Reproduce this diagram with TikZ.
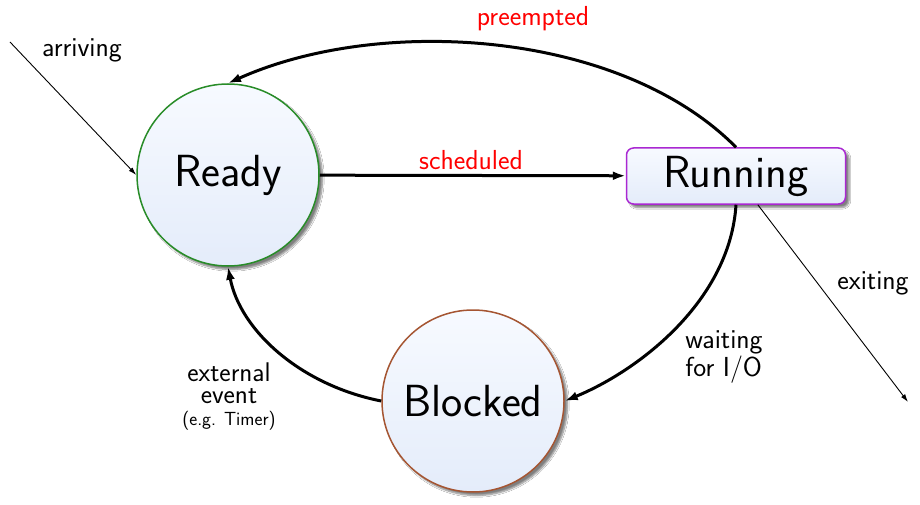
\documentclass[tikz,border=0pt]{standalone}
\usepackage{fontspec}
\usetikzlibrary{arrows.meta,shadows.blur}
\definecolor{rgreen}{RGB}{40,140,40}
\definecolor{bbrown}{RGB}{165,85,50}
\definecolor{rviolet}{RGB}{170,40,210}
\definecolor{ftop}{RGB}{247,250,255}
\definecolor{fbot}{RGB}{228,236,250}
\tikzset{
  statebox/.style={top color=ftop,bottom color=fbot,line width=1.5pt,
    blur shadow={shadow xshift=3.5pt,shadow yshift=-3.5pt,shadow blur steps=6,shadow opacity=50},
    font=\sffamily\fontsize{45}{50}\selectfont,inner sep=0pt},
  statecirc/.style={statebox,circle,minimum size=182pt},
  lbl/.style={font=\sffamily\fontsize{27.5}{24}\selectfont,inner sep=0pt},
  redlbl/.style={lbl,text=red},
  thick arrow/.style={line width=3pt,-{Latex[length=13pt,width=9pt]}},
  thin arrow/.style={line width=0.9pt,-{Latex[length=8pt,width=5pt]}}
}
\begin{document}
\begin{tikzpicture}[x=1pt,y=-1pt]
\fill[white] (0,0) rectangle (920,505);
\useasboundingbox (0,0) rectangle (920,505);
\node[statecirc,draw=rgreen] (ready) at (228,175) {Ready};
\node[statebox,draw=rviolet,rounded corners=7pt,minimum width=219pt,minimum height=56pt] (running) at (736,176) {Running};
\node[statecirc,draw=bbrown] (blocked) at (473,401) {Blocked};
\coordinate (arrin) at (10,42);
\coordinate (exout) at (908,402);
\draw[thin arrow] (arrin) -- (ready.west);
\draw[thin arrow] (running) -- (exout);
\draw[thick arrow] (ready) -- (running);
\draw[thick arrow] (running.north) .. controls (620,30) and (380,15) .. (ready.north);
\draw[thick arrow] (running.south) .. controls (730,300) and (640,370) .. (blocked.east);
\draw[thick arrow] (blocked.west) .. controls (300,385) and (240,330) .. (ready.south);
\node[lbl] (larr) at (82,50) {arriving};
\node[redlbl] (lpre) at (533,19) {preempted};
\node[redlbl] (lsch) at (471,160) {scheduled};
\node[lbl] (lexit) at (873,283) {exiting};
\node[lbl,align=left] (lwait) at (724,357) {waiting\\for I/O};
\node[lbl,align=center,font=\sffamily\fontsize{27}{22}\selectfont] (lext) at (229,397) {external\\event\\{\fontsize{19}{19}\selectfont(e.g. Timer)}};
\end{tikzpicture}
\end{document}
